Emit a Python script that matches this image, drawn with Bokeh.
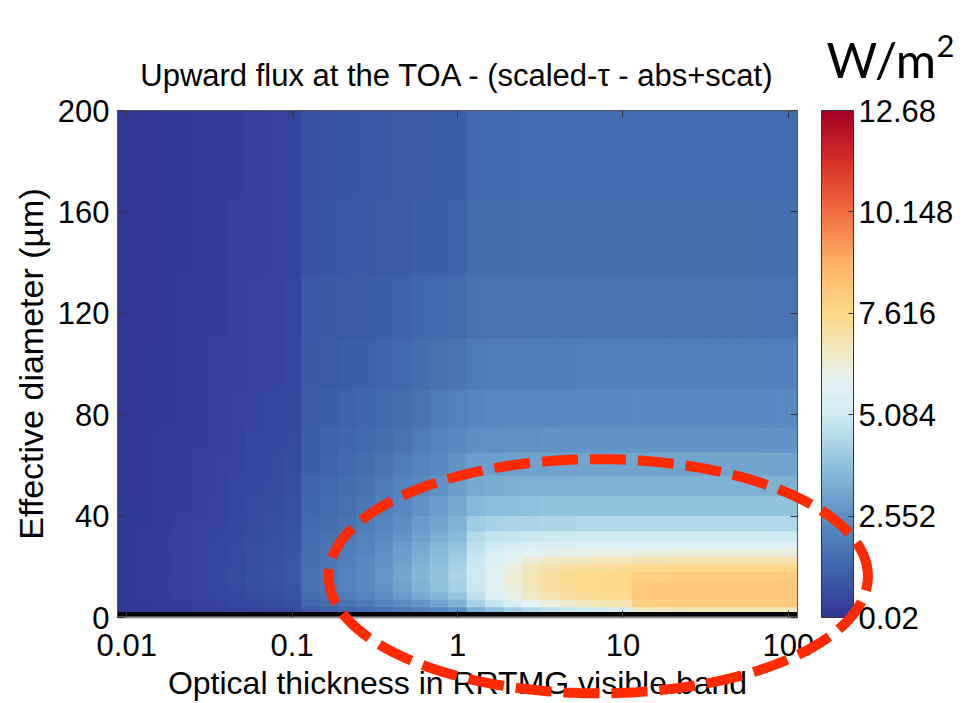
import numpy as np
from bokeh.plotting import figure
from bokeh.models import (ColumnDataSource, LinearColorMapper, ColorBar, FixedTicker,
                          CustomJSTickFormatter, Range1d, LinearAxis, LogAxis, Label, LogScale)
from bokeh.embed import file_html
from bokeh.resources import INLINE

# ---------------- data ----------------
# optical thickness grid (column centres)
tau = [0.01, 0.01292, 0.01668, 0.02154, 0.02783, 0.03594, 0.04642, 0.05995, 0.07743,
       0.1, 0.1292, 0.1668, 0.2154, 0.2783, 0.3594, 0.4642, 0.5995, 0.7743,
       1.0, 1.292, 1.668, 2.154, 2.783, 3.594, 4.642, 5.995, 7.743,
       10.0, 12.92, 16.68, 21.54, 27.83, 35.94, 46.42, 59.95, 77.43, 100.0]

# effective diameter row edges (um); first row is the missing (black) row
d_edges = [0.2, 2.2, 4, 7, 10, 14, 18, 21, 24, 27, 30, 34, 40, 48, 56, 65, 75, 90,
           110, 135, 165, 200]

NAN = float("nan")
row_missing = [NAN] * 37
# each row: 10 values (tau 0.01-0.1), 9 (0.13-1), 9 (1.3-10), 9 (13-100)
row_d03 = [0.10, 0.12, 0.15, 0.19, 0.24, 0.29, 0.34, 0.40, 0.46, 0.52,
           1.0, 1.12, 1.27, 1.44, 1.63, 1.84, 2.06, 2.3, 2.56,
           3.3, 3.8, 4.2, 4.5, 4.75, 4.95, 5.1, 5.2, 5.3,
           6.6, 6.7, 6.75, 6.8, 6.8, 6.8, 6.8, 6.8, 6.8]
row_d05 = [0.12, 0.15, 0.19, 0.24, 0.30, 0.36, 0.43, 0.51, 0.59, 0.67,
           1.3, 1.47, 1.67, 1.9, 2.15, 2.43, 2.73, 3.05, 3.4,
           4.3, 4.9, 5.4, 5.85, 6.2, 6.5, 6.75, 6.9, 7.0,
           7.9, 7.95, 8.0, 8.0, 8.0, 8.0, 8.0, 8.0, 8.0]
row_d08 = [0.13, 0.17, 0.22, 0.28, 0.35, 0.43, 0.51, 0.60, 0.70, 0.80,
           1.5, 1.7, 1.93, 2.2, 2.5, 2.83, 3.19, 3.57, 3.97,
           4.8, 5.5, 6.1, 6.6, 6.95, 7.2, 7.35, 7.45, 7.5,
           8.15, 8.2, 8.2, 8.22, 8.22, 8.22, 8.22, 8.22, 8.22]
row_d12 = [0.14, 0.18, 0.24, 0.30, 0.38, 0.46, 0.55, 0.65, 0.76, 0.86,
           1.58, 1.8, 2.05, 2.34, 2.67, 3.03, 3.42, 3.84, 4.28,
           5.0, 5.7, 6.3, 6.8, 7.15, 7.38, 7.5, 7.58, 7.62,
           8.15, 8.18, 8.2, 8.2, 8.2, 8.2, 8.2, 8.2, 8.2]
row_d16 = [0.14, 0.19, 0.24, 0.31, 0.39, 0.47, 0.57, 0.67, 0.78, 0.88,
           1.6, 1.82, 2.08, 2.38, 2.72, 3.09, 3.49, 3.92, 4.38,
           5.05, 5.75, 6.35, 6.85, 7.15, 7.4, 7.5, 7.58, 7.62,
           7.95, 7.98, 8.0, 8.0, 8.0, 8.0, 8.0, 8.0, 8.0]
row_d19 = [0.14, 0.19, 0.24, 0.31, 0.38, 0.47, 0.56, 0.66, 0.77, 0.87,
           1.58, 1.79, 2.05, 2.35, 2.69, 3.05, 3.44, 3.86, 4.3,
           5.05, 5.7, 6.25, 6.7, 7.0, 7.2, 7.3, 7.36, 7.4,
           7.5, 7.52, 7.55, 7.55, 7.55, 7.55, 7.55, 7.55, 7.55]
row_d22 = [0.14, 0.18, 0.24, 0.30, 0.38, 0.46, 0.55, 0.65, 0.75, 0.85,
           1.55, 1.76, 2.01, 2.3, 2.63, 2.98, 3.36, 3.77, 4.19,
           5.0, 5.55, 6.0, 6.35, 6.55, 6.68, 6.75, 6.8, 6.82,
           6.9, 6.92, 6.95, 6.95, 6.95, 6.95, 6.95, 6.95, 6.95]
row_d25 = [0.13, 0.18, 0.23, 0.29, 0.37, 0.45, 0.54, 0.63, 0.73, 0.83,
           1.52, 1.72, 1.96, 2.24, 2.56, 2.9, 3.26, 3.65, 4.05,
           4.9, 5.35, 5.65, 5.85, 5.98, 6.05, 6.1, 6.12, 6.14,
           6.18, 6.2, 6.2, 6.22, 6.22, 6.22, 6.22, 6.22, 6.22]
row_d28 = [0.13, 0.17, 0.23, 0.29, 0.36, 0.44, 0.52, 0.61, 0.71, 0.81,
           1.48, 1.67, 1.9, 2.17, 2.47, 2.79, 3.14, 3.5, 3.88,
           4.75, 5.1, 5.3, 5.42, 5.5, 5.54, 5.56, 5.58, 5.6,
           5.6, 5.6, 5.62, 5.62, 5.62, 5.62, 5.62, 5.62, 5.62]
row_d32 = [0.13, 0.17, 0.22, 0.28, 0.35, 0.42, 0.50, 0.59, 0.69, 0.78,
           1.44, 1.61, 1.83, 2.08, 2.36, 2.66, 2.98, 3.32, 3.67,
           4.55, 4.8, 4.92, 4.98, 5.02, 5.04, 5.05, 5.05, 5.05,
           5.05, 5.05, 5.05, 5.05, 5.05, 5.05, 5.05, 5.05, 5.05]
row_d37 = [0.12, 0.16, 0.21, 0.27, 0.33, 0.40, 0.48, 0.56, 0.65, 0.74,
           1.38, 1.53, 1.73, 1.95, 2.2, 2.47, 2.8, 3.12, 3.45,
           4.15, 4.3, 4.38, 4.42, 4.45, 4.47, 4.48, 4.48, 4.48,
           4.48, 4.48, 4.48, 4.48, 4.48, 4.48, 4.48, 4.48, 4.48]
row_d44 = [0.12, 0.15, 0.20, 0.25, 0.31, 0.38, 0.45, 0.53, 0.61, 0.69,
           1.3, 1.43, 1.6, 1.79, 2.0, 2.3, 2.6, 2.9, 3.2,
           3.6, 3.7, 3.76, 3.8, 3.83, 3.85, 3.86, 3.86, 3.86,
           3.86, 3.86, 3.86, 3.86, 3.86, 3.86, 3.86, 3.86, 3.86]
row_d52 = [0.11, 0.14, 0.19, 0.24, 0.29, 0.35, 0.42, 0.49, 0.56, 0.63,
           1.22, 1.33, 1.47, 1.63, 1.85, 2.1, 2.35, 2.62, 2.9,
           3.2, 3.26, 3.32, 3.35, 3.37, 3.38, 3.4, 3.4, 3.4,
           3.4, 3.4, 3.4, 3.4, 3.4, 3.4, 3.4, 3.4, 3.4]
row_d60 = [0.11, 0.14, 0.18, 0.22, 0.27, 0.33, 0.39, 0.45, 0.52, 0.58,
           1.15, 1.25, 1.37, 1.52, 1.7, 1.9, 2.12, 2.38, 2.65,
           2.85, 2.92, 2.97, 3.0, 3.02, 3.03, 3.04, 3.04, 3.04,
           3.04, 3.04, 3.04, 3.04, 3.04, 3.04, 3.04, 3.04, 3.04]
row_d70 = [0.10, 0.13, 0.17, 0.21, 0.26, 0.31, 0.36, 0.42, 0.48, 0.54,
           1.08, 1.16, 1.26, 1.39, 1.53, 1.7, 1.9, 2.12, 2.35,
           2.5, 2.56, 2.61, 2.64, 2.66, 2.67, 2.68, 2.68, 2.68,
           2.68, 2.68, 2.68, 2.68, 2.68, 2.68, 2.68, 2.68, 2.68]
row_d82 = [0.10, 0.12, 0.16, 0.20, 0.24, 0.29, 0.34, 0.39, 0.44, 0.50,
           1.02, 1.08, 1.16, 1.26, 1.38, 1.52, 1.7, 1.88, 2.05,
           2.2, 2.25, 2.3, 2.32, 2.34, 2.35, 2.36, 2.36, 2.36,
           2.36, 2.36, 2.36, 2.36, 2.36, 2.36, 2.36, 2.36, 2.36]
row_d100 = [0.09, 0.12, 0.15, 0.18, 0.22, 0.27, 0.31, 0.36, 0.41, 0.46,
            0.95, 1.0, 1.06, 1.14, 1.24, 1.35, 1.48, 1.6, 1.72,
            1.88, 1.92, 1.95, 1.97, 1.98, 1.99, 2.0, 2.0, 2.0,
            2.0, 2.0, 2.0, 2.0, 2.0, 2.0, 2.0, 2.0, 2.0]
row_d122 = [0.09, 0.11, 0.14, 0.17, 0.21, 0.25, 0.29, 0.33, 0.38, 0.42,
            0.88, 0.93, 0.98, 1.04, 1.11, 1.2, 1.3, 1.4, 1.5,
            1.64, 1.67, 1.7, 1.72, 1.73, 1.74, 1.75, 1.75, 1.75,
            1.75, 1.75, 1.75, 1.75, 1.75, 1.75, 1.75, 1.75, 1.75]
row_d150 = [0.08, 0.10, 0.13, 0.16, 0.19, 0.23, 0.27, 0.31, 0.35, 0.39,
            0.8, 0.85, 0.9, 0.95, 1.0, 1.05, 1.1, 1.15, 1.2,
            1.46, 1.48, 1.5, 1.51, 1.52, 1.52, 1.53, 1.53, 1.53,
            1.53, 1.53, 1.53, 1.53, 1.53, 1.53, 1.53, 1.53, 1.53]
row_d182 = [0.08, 0.10, 0.12, 0.15, 0.18, 0.21, 0.25, 0.28, 0.32, 0.36,
            0.75, 0.8, 0.85, 0.9, 0.95, 1.0, 1.05, 1.1, 1.15,
            1.36, 1.38, 1.4, 1.41, 1.42, 1.42, 1.43, 1.43, 1.43,
            1.43, 1.43, 1.43, 1.43, 1.43, 1.43, 1.43, 1.43, 1.43]

flux_rows = [row_missing, row_d03, row_d05, row_d08, row_d12, row_d16, row_d19,
             row_d22, row_d25, row_d28, row_d32, row_d37, row_d44, row_d52,
             row_d60, row_d70, row_d82, row_d100, row_d122, row_d150, row_d182]

x_ticks = [0.01, 0.1, 1, 10, 100]
y_ticks = [0, 40, 80, 120, 160, 200]
cbar_ticks = [0.02, 2.552, 5.084, 7.616, 10.148, 12.68]
flux_min, flux_max = 0.02, 12.68

# highlighted region (dashed ellipse): centre and half-extents in data space
hl_tau_centre = 7.1
hl_d_centre = 17.0
hl_half_decades = 1.63
hl_half_d = 46.0

# ---------------- layout constants ----------------
W, H = 974, 703
FRAME_L, FRAME_R, FRAME_T, FRAME_B = 117, 797, 110, 619
FONT = "Liberation Sans"

# ---------------- colour map (RdYlBu reversed, as in the colour bar) -------------
stops = [(0.00, "#313695"), (0.10, "#4067ad"), (0.20, "#5d91c5"), (0.30, "#8fc2dd"),
         (0.40, "#cfeaf2"), (0.46, "#e2f2f5"), (0.52, "#efe8c5"), (0.60, "#fdd888"),
         (0.70, "#fdb266"), (0.80, "#f46d43"), (0.90, "#d73027"), (1.00, "#a50026")]


def hex2rgb(h):
    return [int(h[i:i + 2], 16) for i in (1, 3, 5)]


sp = np.array([s[0] for s in stops])
sc = np.array([hex2rgb(s[1]) for s in stops], dtype=float)
palette = []
for f in np.linspace(0, 1, 256):
    r = np.interp(f, sp, sc[:, 0]); g = np.interp(f, sp, sc[:, 1]); b = np.interp(f, sp, sc[:, 2])
    palette.append("#%02x%02x%02x" % (int(round(r)), int(round(g)), int(round(b))))

mapper = LinearColorMapper(palette=palette, low=flux_min, high=flux_max, nan_color="black")

# ---------------- cells ----------------
t = np.array(tau)
lt = np.log10(t)
step = lt[1] - lt[0]
x_edges = 10 ** np.concatenate([[lt[0] - step / 2], (lt[:-1] + lt[1:]) / 2, [lt[-1] + step / 2]])
ov = 10 ** (step * 0.04)   # tiny overlap so that neighbouring cells leave no seams

left, right, bottom, top, val = [], [], [], [], []
for i, row in enumerate(flux_rows):
    for k, v in enumerate(row):
        left.append(x_edges[k]); right.append(x_edges[k + 1] * (ov if k < 36 else 1.0))
        bottom.append(d_edges[i]); top.append(d_edges[i + 1] + (0.3 if i < len(flux_rows) - 1 else 0))
        val.append(v)
src = ColumnDataSource(dict(left=left, right=right, bottom=bottom, top=top, v=val))

p = figure(width=W, height=H, x_axis_type="log",
           x_range=Range1d(x_edges[0], x_edges[-1]), y_range=Range1d(0, 200),
           output_backend="svg", toolbar_location=None,
           min_border_left=FRAME_L, min_border_right=W - FRAME_R,
           min_border_top=FRAME_T, min_border_bottom=H - FRAME_B)
p.background_fill_color = "white"
p.grid.visible = False
p.outline_line_color = "#555555"

p.quad(left="left", right="right", bottom="bottom", top="top", source=src,
       fill_color={"field": "v", "transform": mapper}, line_color=None)

fmt = CustomJSTickFormatter(code="return tick.toString();")

xa = p.xaxis[0]
xa.ticker = FixedTicker(ticks=x_ticks)
xa.formatter = fmt
xa.axis_label = "Optical thickness in RRTMG visible band"
ya = p.yaxis[0]
ya.ticker = FixedTicker(ticks=y_ticks)
ya.axis_label = "Effective diameter (µm)"
for ax in (xa, ya):
    ax.major_tick_in = 7
    ax.major_tick_out = 0
    ax.minor_tick_line_color = None
    ax.major_tick_line_color = "#333333"
    ax.axis_line_color = "#555555"
    ax.major_label_text_font = FONT
    ax.major_label_text_font_size = "31px"
    ax.major_label_text_color = "black"
    ax.axis_label_text_font = FONT
    ax.axis_label_text_font_style = "normal"
    ax.axis_label_text_color = "black"
xa.axis_label_text_font_size = "32px"
ya.axis_label_text_font_size = "34px"
xa.axis_line_color = "#999999"
xa.axis_line_width = 2
xa.major_label_standoff = 16
xa.axis_label_standoff = 6
ya.major_label_standoff = 8
ya.axis_label_standoff = 5

# mirrored ticks (top / right), labels not drawn
xt = LogAxis(ticker=FixedTicker(ticks=x_ticks), major_label_text_font_size="4px",
             major_label_text_color=None, major_tick_in=7, major_tick_out=0,
             minor_tick_line_color=None, axis_line_color="#555555",
             major_tick_line_color="#333333", major_label_standoff=0)
p.add_layout(xt, "above")
yr = LinearAxis(ticker=FixedTicker(ticks=y_ticks), major_label_text_font_size="4px",
                major_label_text_color=None, major_tick_in=7, major_tick_out=0,
                minor_tick_line_color=None, axis_line_color="#555555",
                major_tick_line_color="#333333", major_label_standoff=0)
p.add_layout(yr, "right")

cb = ColorBar(color_mapper=mapper, ticker=FixedTicker(ticks=cbar_ticks), formatter=fmt,
              width=32, location=(24, 0), padding=0, margin=0,
              bar_line_color="#333333", major_tick_line_color="#333333",
              major_tick_in=5, major_tick_out=0, minor_tick_line_color=None,
              label_standoff=5, major_label_text_font=FONT, major_label_text_font_size="31px",
              major_label_text_color="black", background_fill_alpha=0, border_line_color=None)
p.add_layout(cb, "right")

p.title.text = "Upward flux at the TOA - (scaled-τ - abs+scat)"
p.title.align = "center"
p.title.text_font = FONT
p.title.text_font_size = "31px"
p.title.text_font_style = "normal"
p.title.text_color = "black"
p.title.standoff = 36

# ---------------- transparent overlay sharing the same data scales ----------------
lx0, lx1 = np.log10(x_edges[0]), np.log10(x_edges[-1])
dpp = (lx1 - lx0) / (FRAME_R - FRAME_L)
upp = 200.0 / (FRAME_B - FRAME_T)
q = figure(width=W, height=H, x_axis_type="log",
           x_range=Range1d(10 ** (lx0 - FRAME_L * dpp), 10 ** (lx1 + (W - FRAME_R) * dpp)),
           y_range=Range1d(0 - (H - FRAME_B) * upp, 200 + FRAME_T * upp),
           x_axis_location=None, y_axis_location=None, min_border=0, title=None,
           output_backend="svg", toolbar_location=None)
q.x_scale = LogScale()
q.grid.visible = False
q.outline_line_color = None
q.background_fill_alpha = 0
q.border_fill_alpha = 0
q.styles = {"position": "absolute", "top": "0px", "left": "0px", "pointer-events": "none"}

# unit label, top right ("W/m" with a raised "2")
q.add_layout(Label(x=10 ** (lx0 + (826 - FRAME_L) * dpp), y=(FRAME_B - 58) * upp,
                   text="W/m", text_font="Lato", text_font_size="49px", text_color="black",
                   text_baseline="alphabetic"))
q.add_layout(Label(x=10 ** (lx0 + (936 - FRAME_L) * dpp), y=(FRAME_B - 45) * upp,
                   text="2", text_font="Lato", text_font_size="31px", text_color="black",
                   text_baseline="alphabetic"))

th = np.linspace(0, 2 * np.pi, 361)
ex = 10 ** (np.log10(hl_tau_centre) + hl_half_decades * np.cos(th))
ey = hl_d_centre + hl_half_d * np.sin(th)
q.line(ex, ey, line_color="#ff2a00", line_width=10, line_dash="36 12")

open("out.html", "w").write(file_html([p, q], INLINE))
